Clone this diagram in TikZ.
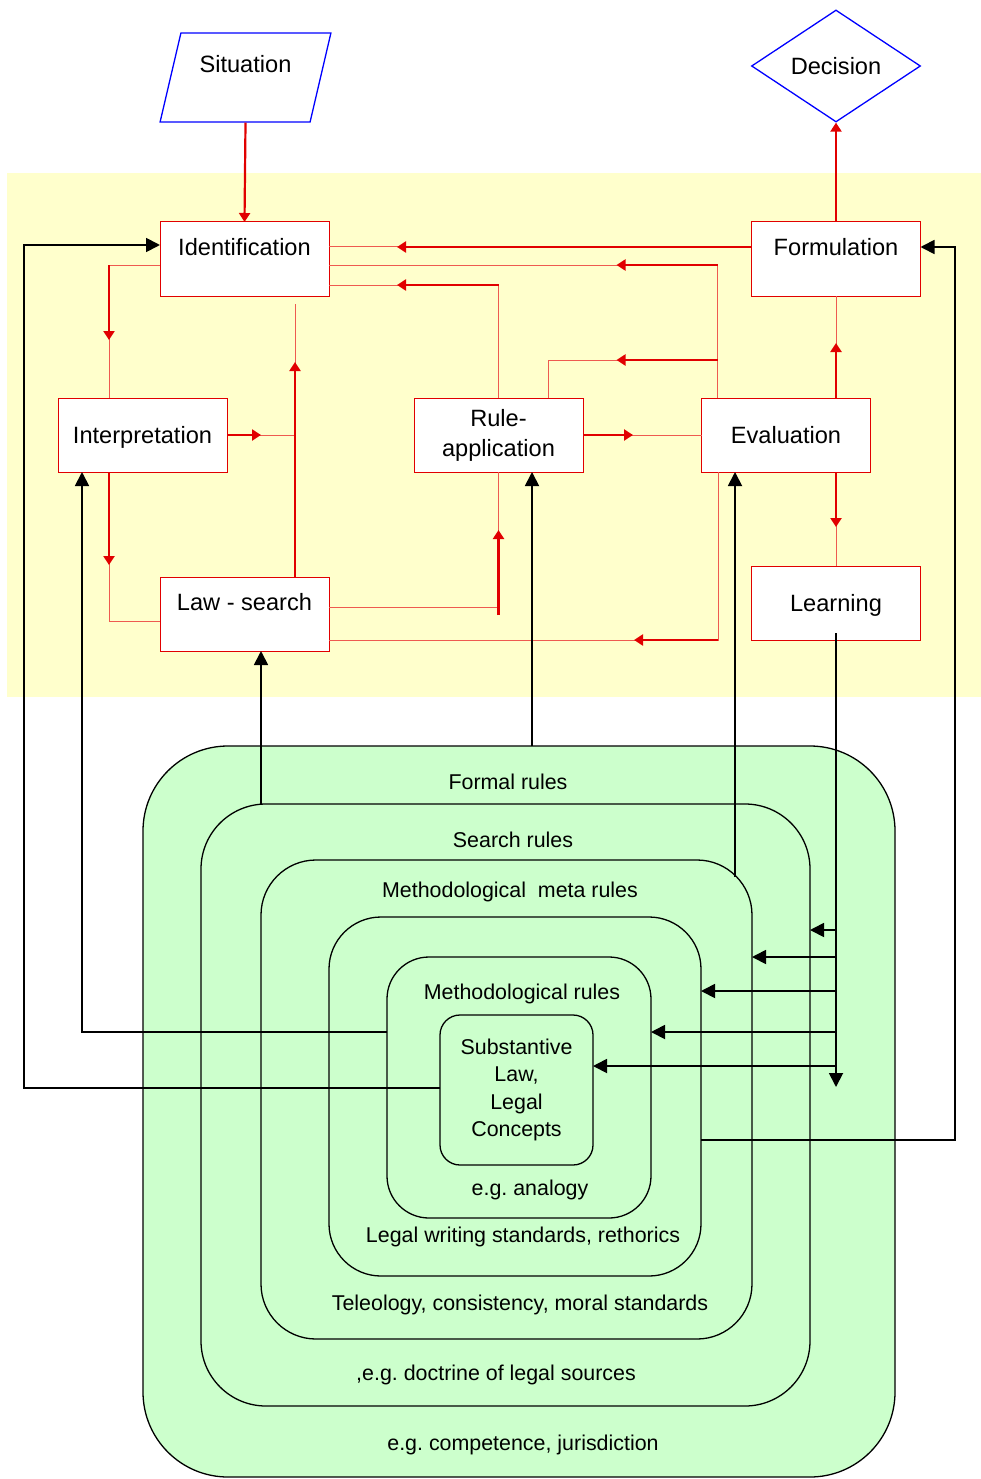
\documentclass[tikz,border=0pt]{standalone}
\usepackage{fontspec}
\setmainfont{Liberation Sans}
\usetikzlibrary{arrows.meta,shapes.geometric}
\definecolor{rulered}{RGB}{225,0,0}
\definecolor{thinred}{RGB}{238,90,80}
\definecolor{paleyellow}{RGB}{255,255,204}
\definecolor{palegreen}{RGB}{204,255,204}
\frenchspacing

\begin{document}
\begin{tikzpicture}[x=1pt,y=-1pt,
  stage/.style={draw=rulered,line width=1pt,fill=white,minimum width=169pt,minimum height=74pt,inner sep=0pt,outer sep=0pt,font=\fontsize{23.6}{30}\selectfont},
  stagetop/.style={stage,text height=17pt,text depth=24pt}, stagemid/.style={stage,text height=17pt,text depth=0pt},
  ring/.style={draw=black,line width=1.3pt,fill=palegreen,inner sep=0pt,outer sep=0pt},
  ringtext/.style={font=\fontsize{21.4}{27.5}\selectfont,text height=15.3pt,text depth=0pt,inner sep=0pt},
  rline/.style={draw=thinred,line width=1pt}, rarr/.style={draw=rulered,line width=2.2pt,-{Triangle[length=9pt,width=11pt]}},
  barr/.style={draw=black,line width=1.8pt,-{Triangle[length=14pt,width=14pt]}}]
  \useasboundingbox (0,0) rectangle (981,1479); \fill[paleyellow] (7,173) rectangle (981,697);
  \node[draw=blue,line width=1.3pt,trapezium,trapezium left angle=71,trapezium right angle=109,trapezium stretches=true,minimum width=171pt,minimum height=89pt,inner sep=0pt,font=\fontsize{23.6}{30}\selectfont,text height=17pt,text depth=26pt] (situation) at (245.5,77.5) {Situation};
  \node[draw=blue,line width=1.3pt,diamond,minimum width=169pt,minimum height=112pt,inner sep=0pt,font=\fontsize{23.6}{30}\selectfont,text height=17pt,text depth=0pt] (decision) at (836,66) {Decision};
  \node[stagetop] (ident) at (244.5,259) {Identification}; \node[stagetop] (formul) at (836,259) {Formulation};
  \node[stagemid] (interp) at (142.5,435) {Interpretation}; \node[stage,align=center] (ruleapp) at (498.5,435) {Rule-\\application};
  \node[stagemid] (evalu) at (786,435) {Evaluation};
  \node[stagetop] (lawsearch) at (244.5,614) {Law - search}; \node[stagemid] (learning) at (836,603) {Learning};
  \node[ring,rounded corners=85pt,minimum width=752pt,minimum height=731pt] (formal) at (519,1111.5) {};
  \node[ring,rounded corners=65pt,minimum width=609pt,minimum height=602pt] (search) at (505.5,1105) {};
  \node[ring,rounded corners=55pt,minimum width=491pt,minimum height=479pt] (metameta) at (506.5,1099.5) {};
  \node[ring,rounded corners=52pt,minimum width=372pt,minimum height=359pt] (writing) at (515,1096.5) {};
  \node[ring,rounded corners=42pt,minimum width=264pt,minimum height=261pt] (method) at (519,1087.5) {};
  \node[ring,rounded corners=20pt,minimum width=153pt,minimum height=150pt,align=center,font=\fontsize{21.4}{27.5}\selectfont] (subst) at (516.5,1090) {Substantive\\Law,\\Legal\\Concepts};
  \node[ringtext] (formaltop) at (508,782) {Formal rules}; \node[ringtext] (formalbot) at (523,1443) {e.g. competence, jurisdiction};
  \node[ringtext] (searchtop) at (513,840) {Search rules}; \node[ringtext] (searchbot) at (496,1373) {,e.g. doctrine of legal sources};
  \node[ringtext] (metatop) at (510,890) {Methodological\ \ meta rules}; \node[ringtext] (metabot) at (520,1303) {Teleology, consistency, moral standards};
  \node[ringtext] (writingbot) at (523,1235) {Legal writing standards, rethorics};
  \node[ringtext] (methodtop) at (522,992) {Methodological rules}; \node[ringtext] (methodbot) at (530,1188) {e.g. analogy};
  \draw[rarr] (situation.south) -- (ident.north); \draw[rarr] (formul.north) -- (decision.south);
  \draw[rline] ([yshift=12pt]formul.west) -- ([yshift=12pt]ident.east); \draw[rarr] ([yshift=12pt]formul.west) -- ++(-354.5,0);
  \draw[rline] ([xshift=16pt]evalu.north west) |- ([yshift=-6pt]ident.east); \draw[rarr] ([xshift=16pt]evalu.north west) ++(0,-133) -- ++(-101,0);
  \draw[rline] ([xshift=16pt]evalu.north west) -- ++(0,-38) -| ([xshift=50pt]ruleapp.north); \draw[rarr] ([xshift=16pt]evalu.north west) ++(0,-38) -- ++(-101,0);
  \draw[rline] (ruleapp.north) |- ([yshift=-26pt]ident.east); \draw[rarr] (ruleapp.north) ++(0,-113) -- ++(-101.5,0);
  \draw[rline] (interp.east) -- ++(68,0); \draw[rarr] (interp.east) -- ++(34,0);
  \draw[rline] ([xshift=50.5pt]lawsearch.north) -- ([xshift=50.5pt,yshift=-8pt]ident.south); \draw[rarr] ([xshift=50.5pt]lawsearch.north) -- ++(0,-215);
  \draw[rline] ([yshift=-6pt]ident.west) -| ([xshift=-33.5pt]interp.north); \draw[rarr] ([yshift=-6pt]ident.west) ++(-51,0) -- ++(0,75);
  \draw[rline] ([xshift=-33.5pt]interp.south) |- ([yshift=-7pt]lawsearch.west); \draw[rarr] ([xshift=-33.5pt]interp.south) -- ++(0,93);
  \draw[rline] ([yshift=7pt]lawsearch.east) -| (ruleapp.south); \draw[rarr] ([yshift=7pt]lawsearch.east) ++(169.5,8) -- ++(0,-85);
  \draw[rline] ([xshift=-68pt]evalu.south) |- ([yshift=-26pt]lawsearch.east); \draw[rarr] ([xshift=-68pt]evalu.south) ++(0,168) -- ++(-84,0);
  \draw[rline] (ruleapp.east) -- (evalu.west); \draw[rarr] (ruleapp.east) -- ++(50,0);
  \draw[rline] (evalu.north -| formul.south) -- (formul.south); \draw[rarr] (evalu.north -| formul.south) -- ++(0,-55);
  \draw[rline] (evalu.south -| learning.north) -- (learning.north); \draw[rarr] (evalu.south -| learning.north) -- ++(0,55);
  \draw[barr] ([yshift=7pt]learning.south) -- ++(0,454);
  \foreach \ring/\ylev in {search/930,metameta/957,writing/991,method/1032,subst/1066} \draw[barr] (learning.south |- 0,\ylev) -- (\ring.east |- 0,\ylev);
  \draw[barr] (writing.east |- 0,1140) -| ([xshift=34.5pt,yshift=12pt]formul.east) -- ([yshift=12pt]formul.east);
  \draw[barr] (subst.west |- 0,1088) -| ([xshift=-136pt,yshift=14pt]ident.west) -- ([yshift=14pt]ident.west);
  \draw[barr] (method.west |- 0,1032) -| ([xshift=-60.5pt]interp.south);
  \draw[barr] ([xshift=16.5pt]lawsearch.south |- search.north) -- ([xshift=16.5pt]lawsearch.south);
  \draw[barr] ([xshift=33.5pt]ruleapp.south |- formal.north) -- ([xshift=33.5pt]ruleapp.south);
  \draw[barr] ([xshift=-51pt]evalu.south |- 0,877) -- ([xshift=-51pt]evalu.south);
\end{tikzpicture}
\end{document}
